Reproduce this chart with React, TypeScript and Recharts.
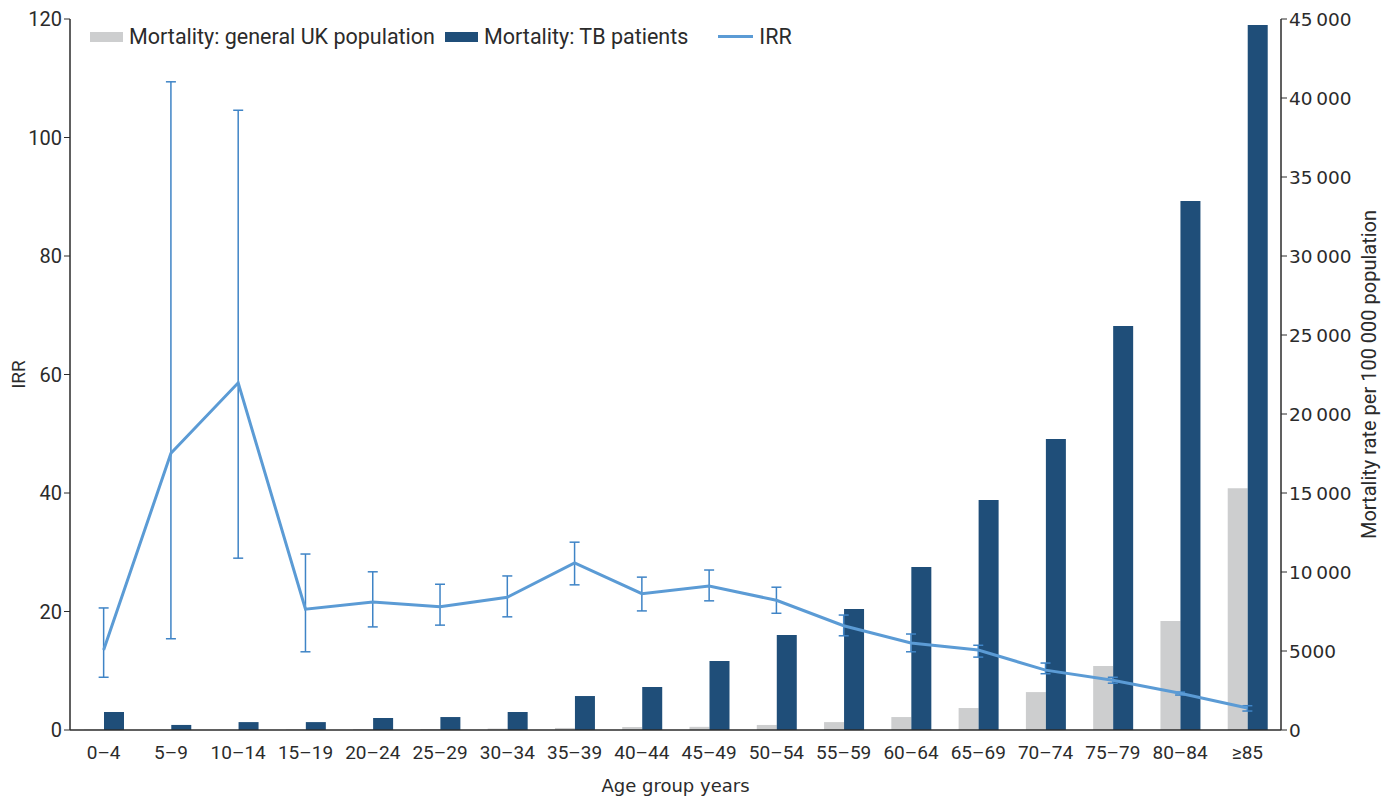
import React from 'react';
import { ComposedChart, Bar, Line, ErrorBar, XAxis, YAxis } from 'recharts';

const ageGroups = ['0–4', '5–9', '10–14', '15–19', '20–24', '25–29', '30–34', '35–39', '40–44', '45–49', '50–54', '55–59', '60–64', '65–69', '70–74', '75–79', '80–84', '≥85'];

// mortality per 100 000 (right axis)
const generalUK = [20, 10, 12, 30, 50, 60, 90, 130, 190, 200, 320, 500, 820, 1390, 2400, 4050, 6900, 15300];
const tbPatients = [1140, 320, 500, 500, 760, 820, 1140, 2150, 2720, 4370, 6010, 7660, 10320, 14560, 18420, 25570, 33480, 44620];

// IRR with 95% CI (left axis)
const irr = [13.5, 46.7, 58.6, 20.4, 21.6, 20.8, 22.4, 28.2, 23.0, 24.3, 21.9, 17.6, 14.7, 13.5, 10.1, 8.4, 6.2, 3.7];
const irrLow = [8.9, 15.4, 29.0, 13.2, 17.4, 17.7, 19.1, 24.5, 20.1, 21.8, 19.7, 15.9, 13.2, 12.3, 9.5, 7.9, 5.9, 3.2];
const irrHigh = [20.6, 109.4, 104.6, 29.7, 26.7, 24.6, 26.0, 31.7, 25.8, 27.0, 24.1, 19.4, 16.2, 14.3, 11.3, 8.9, 6.4, 4.1];

const leftTicks = [0, 20, 40, 60, 80, 100, 120];
const rightTicks = [0, 5000, 10000, 15000, 20000, 25000, 30000, 35000, 40000, 45000];

const data = ageGroups.map((age, i) => ({
  age,
  general: generalUK[i],
  tb: tbPatients[i],
  irr: irr[i],
  irrErr: [irr[i] - irrLow[i], irrHigh[i] - irr[i]],
}));

const GRAY = '#cdcecf';
const NAVY = '#1f4e79';
const LINE = '#5b9bd5';
const ERR = '#3f84c6';
const TXT = '#2b2b2b';

const fmtRight = (v: number) => (v >= 10000 ? `${Math.floor(v / 1000)}\u2009000` : `${v}`);

const legendItems = [
  { label: 'Mortality: general UK population', color: GRAY, type: 'rect' },
  { label: 'Mortality: TB patients', color: NAVY, type: 'rect' },
  { label: 'IRR', color: LINE, type: 'line' },
];

export default function App() {
  return (
    <div style={{ position: 'absolute', left: 0, top: 0, width: 1395, height: 798, background: '#fff' }}>
      <ComposedChart
        width={1395}
        height={798}
        data={data}
        margin={{ top: 19, right: 44, left: 20, bottom: 0 }}
        barGap={0}
        barSize={20}
      >
        <XAxis
          dataKey="age"
          height={68}
          tickLine={false}
          axisLine={{ stroke: TXT, strokeWidth: 1.5 }}
          interval={0}
          tick={{ fontFamily: 'Roboto', fontSize: 19, fill: TXT }}
          tickMargin={10}
          label={{ value: 'Age group years', position: 'insideBottom', offset: 6, style: { fontFamily: 'DejaVu Sans', fontSize: 18, fill: TXT } }}
        />
        <YAxis
          yAxisId="left"
          width={50}
          domain={[0, 120]}
          ticks={leftTicks}
          interval={0}
          axisLine={{ stroke: TXT, strokeWidth: 1.5 }}
          tickLine={{ stroke: TXT }}
          tickSize={6}
          tick={{ fontFamily: 'Roboto', fontSize: 20, fill: TXT }}
          label={{ value: 'IRR', angle: -90, position: 'insideLeft', offset: -2, style: { fontFamily: 'Roboto', fontSize: 19, fill: TXT, textAnchor: 'middle' } }}
        />
        <YAxis
          yAxisId="right"
          orientation="right"
          width={70}
          domain={[0, 45000]}
          ticks={rightTicks}
          interval={0}
          tickFormatter={fmtRight}
          axisLine={{ stroke: TXT, strokeWidth: 1.5 }}
          tickLine={{ stroke: TXT }}
          tickSize={6}
          tick={{ fontFamily: 'DejaVu Sans', fontSize: 18.5, fill: TXT }}
          label={{ value: 'Mortality rate per 100 000 population', angle: -90, position: 'insideRight', offset: -18, style: { fontFamily: 'Roboto', fontSize: 20, fill: TXT, textAnchor: 'middle' } }}
        />
        <Bar yAxisId="right" dataKey="general" name="Mortality: general UK population" fill={GRAY} isAnimationActive={false} />
        <Bar yAxisId="right" dataKey="tb" name="Mortality: TB patients" fill={NAVY} isAnimationActive={false} />
        <Line yAxisId="left" dataKey="irr" name="IRR" stroke={LINE} strokeWidth={3} dot={false} activeDot={false} type="linear" isAnimationActive={false}>
          <ErrorBar dataKey="irrErr" width={5} stroke={ERR} strokeWidth={1.5} direction="y" isAnimationActive={false} />
        </Line>
      </ComposedChart>
      <div style={{ position: 'absolute', left: 90, top: 24, display: 'flex', alignItems: 'center', fontFamily: 'Roboto', fontSize: 21.5, color: TXT, whiteSpace: 'nowrap' }}>
        {legendItems.map((it) => (
          <div key={it.label} style={{ display: 'flex', alignItems: 'center', marginRight: it.type === 'rect' ? 10 : 0, marginLeft: it.type === 'line' ? 20 : 0 }}>
            {it.type === 'rect' ? (
              <span style={{ width: 33, height: 10, background: it.color, marginRight: 6, display: 'inline-block' }} />
            ) : (
              <span style={{ width: 35, height: 3, background: it.color, marginRight: 6, display: 'inline-block' }} />
            )}
            <span>{it.label}</span>
          </div>
        ))}
      </div>
    </div>
  );
}
